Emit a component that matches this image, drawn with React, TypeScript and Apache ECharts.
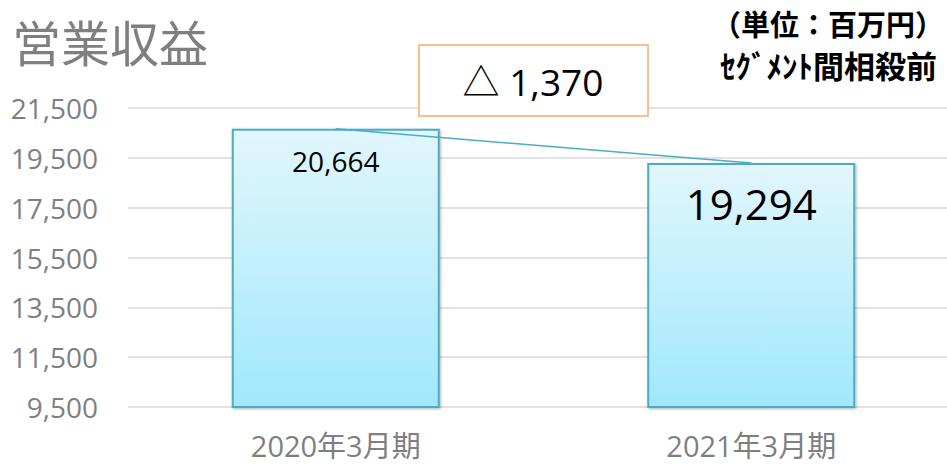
import React, { useEffect, useRef } from "react";
import * as echarts from "echarts";

const categories = ["2020年3月期", "2021年3月期"];
const revenue = [20664, 19294];
const yMin = 9500;
const yMax = 21500;
const yStep = 2000;
const titleText = "営業収益";
const unitLines = ["（単位：百万円）", "ｾｸﾞﾒﾝﾄ間相殺前"];
const deltaText = "△ 1,370";

const FONT = "'Open Sans', 'Noto Sans CJK JP', sans-serif";
const CJK = "'Noto Sans CJK JP', sans-serif";

export default function App() {
  const ref = useRef<HTMLDivElement>(null);
  useEffect(() => {
    if (!ref.current) return;
    const chart = echarts.init(ref.current, null, { renderer: "svg" });
    const fmt = (v: number) => v.toLocaleString("en-US");
    const barData = revenue.map((v, i) => ({
      value: v,
      label:
        i === 0
          ? { fontSize: 28, distance: 18 }
          : { fontSize: 42, distance: 20 },
    }));
    chart.setOption({
      animation: false,
      backgroundColor: "#ffffff",
      grid: { left: 128, top: 108, width: 831, height: 299 },
      xAxis: {
        type: "category",
        data: categories,
        axisLine: { show: false },
        axisTick: { show: false },
        axisLabel: {
          color: "#7f7f7f",
          fontSize: 29,
          lineHeight: 29,
          fontFamily: FONT,
          margin: 24,
        },
      },
      yAxis: {
        type: "value",
        min: yMin,
        max: yMax,
        interval: yStep,
        axisLine: { show: false },
        axisTick: { show: false },
        axisLabel: {
          color: "#7f7f7f",
          fontSize: 28,
          fontFamily: FONT,
          margin: 30,
          formatter: (v: number) => fmt(v),
        },
        splitLine: { lineStyle: { color: "#d9d9d9", width: 1.5 } },
      },
      series: [
        {
          type: "bar",
          data: barData,
          barWidth: 208,
          itemStyle: {
            color: new echarts.graphic.LinearGradient(0, 0, 0, 1, [
              { offset: 0, color: "#e2f6fd" },
              { offset: 1, color: "#a0e8fc" },
            ]),
            borderColor: "#4bacc6",
            borderWidth: 2,
            shadowColor: "rgba(0,0,0,0.3)",
            shadowBlur: 3,
            shadowOffsetX: 1,
            shadowOffsetY: 1,
          },
          label: {
            show: true,
            position: "insideTop",
            color: "#000000",
            fontFamily: FONT,
            formatter: (p: any) => fmt(p.value),
          },
          z: 2,
        },
        {
          type: "line",
          data: revenue,
          showSymbol: false,
          symbol: "none",
          lineStyle: { color: "#4bacc6", width: 1.5 },
          z: 3,
          silent: true,
        },
      ],
      graphic: [
        {
          type: "text",
          x: 12,
          y: 40,
          style: {
            text: titleText,
            fontSize: 49,
            fontFamily: CJK,
            fill: "#7f7f7f",
            verticalAlign: "middle",
          },
        },
        {
          type: "text",
          x: 944,
          y: 23,
          style: {
            text: unitLines[0],
            fontSize: 29,
            fontWeight: "bold",
            fontFamily: CJK,
            fill: "#000000",
            align: "right",
            verticalAlign: "middle",
          },
        },
        {
          type: "text",
          x: 937,
          y: 64,
          style: {
            text: unitLines[1],
            fontSize: 31,
            fontWeight: "bold",
            fontFamily: CJK,
            fill: "#000000",
            align: "right",
            verticalAlign: "middle",
          },
        },
        {
          type: "rect",
          shape: { x: 419, y: 45, width: 229, height: 71 },
          style: { fill: "#ffffff", stroke: "#f8bf8c", lineWidth: 2 },
          z: 10,
        },
        {
          type: "text",
          x: 533,
          y: 81,
          style: {
            text: deltaText,
            fontSize: 37,
            fontFamily: FONT,
            fill: "#000000",
            align: "center",
            verticalAlign: "middle",
          },
          z: 11,
        },
      ],
    });
    return () => chart.dispose();
  }, []);
  return (
    <div
      style={{
        position: "absolute",
        left: 0,
        top: 0,
        width: 947,
        height: 465,
        overflow: "hidden",
      }}
    >
      <div ref={ref} style={{ width: 960, height: 465 }} />
    </div>
  );
}
